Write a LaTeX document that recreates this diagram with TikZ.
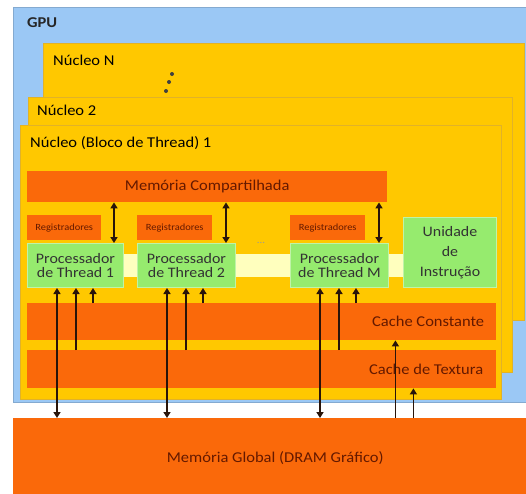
\documentclass[tikz,border=0pt]{standalone}
\usepackage{fontspec}
\setmainfont{Carlito}[FakeStretch=1.1]
\usetikzlibrary{arrows.meta}

\definecolor{gpublue}{RGB}{155,200,245}
\definecolor{coreyellow}{RGB}{255,200,0}
\definecolor{coreedge}{RGB}{225,178,40}
\definecolor{memorange}{RGB}{250,105,10}
\definecolor{procgreen}{RGB}{150,235,110}
\definecolor{busyellow}{RGB}{255,255,190}
\definecolor{txtbrown}{RGB}{100,25,0}
\definecolor{linkdark}{RGB}{40,20,10}

\tikzset{
  box/.style={rectangle, anchor=north west, inner sep=0pt},
  core/.style={box, fill=coreyellow, draw=coreedge, line width=1pt},
  mem/.style={box, fill=memorange, text=txtbrown, font=\fontsize{15}{18}\selectfont},
  reg/.style={box, fill=memorange, text=txtbrown, minimum height=25pt, font=\fontsize{9.5}{11}\selectfont},
  proc/.style={box, fill=procgreen, draw=procgreen!60!white, line width=1pt, align=center, text=black!80, minimum height=44pt, font=\fontsize{14.5}{14}\selectfont},
  lbl/.style={anchor=west, inner sep=0pt, font=\fontsize{15}{18}\selectfont},
  link/.style={line width=1.8pt, draw=linkdark, >={Triangle[width=7pt,length=6pt]}},
}

\begin{document}
\begin{tikzpicture}[x=1pt,y=-1pt]
  \useasboundingbox (0,0) rectangle (526,493);
  \clip (0,0) rectangle (526,493);

  % gpu and the stacked cores
  \node[box, fill=gpublue, draw=gpublue!85!black, line width=0.8pt, minimum width=530pt, minimum height=395pt] (gpu) at (13,7) {};
  \node[core, minimum width=481pt, minimum height=277pt] (cN) at (43,43) {};
  \foreach \x/\y in {172/74,169/82,166/91}
    \fill[black!75] (\x,\y) circle (2pt);
  \node[core, minimum width=484pt, minimum height=275pt] (c2) at (28,97) {};
  \node[core, minimum width=481pt, minimum height=274pt] (c1) at (20,125) {};

  \node[lbl, text=black!85] (gpul) at ([shift={(14,16)}]gpu.north west) {\bfseries GPU};
  \node[lbl] (cNl) at ([shift={(10,17)}]cN.north west) {Núcleo N};
  \node[lbl] (c2l) at ([shift={(9,13)}]c2.north west) {Núcleo 2};
  \node[lbl] (c1l) at ([shift={(10,18)}]c1.north west) {Núcleo (Bloco de Thread) 1};

  % inside core 1
  \node[mem, minimum width=360pt, minimum height=31pt] (shm) at (27,171) {Memória Compartilhada};
  \node[box, fill=busyellow, minimum width=376pt, minimum height=23pt] (bus) at (27,254) {};

  \node[reg, minimum width=74pt] (r1) at (27,215) {Registradores};
  \node[reg, minimum width=75pt] (r2) at (137,215) {Registradores};
  \node[reg, minimum width=75pt] (rM) at (290,215) {Registradores};

  \node[proc, minimum width=96pt] (p1) at (27,243) {Processador\\de Thread 1};
  \node[proc, minimum width=98pt] (p2) at (137,243) {Processador\\de Thread 2};
  \node[proc, minimum width=98pt] (pM) at (290,243) {Processador\\de Thread M};
  \node[text=black!40, font=\fontsize{10}{10}\selectfont] (gap) at (261,243) {...};
  \node[proc, minimum width=93pt, minimum height=70pt, font=\fontsize{14.5}{20}\selectfont] (iu) at (403,217) {Unidade\\de\\Instrução};

  \node[mem, minimum width=469pt, minimum height=37pt] (cst) at (27,303) {};
  \node[anchor=east, inner sep=0pt, text=txtbrown, font=\fontsize{15}{18}\selectfont] (cstl) at ([xshift=-12pt]cst.east) {Cache Constante};
  \node[mem, minimum width=469pt, minimum height=38pt] (tex) at (27,350) {};
  \node[anchor=east, inner sep=0pt, text=txtbrown, font=\fontsize{15}{18}\selectfont] (texl) at ([xshift=-13pt]tex.east) {Cache de Textura};

  % global memory
  \node[mem, minimum width=524pt, minimum height=80pt] (glob) at (13,418) {Memória Global (DRAM Gráfico)};

  % connections
  \foreach \p in {p1,p2,pM} {
    \coordinate (s\p) at ([xshift=-10pt]\p.north east);
    \coordinate (a\p) at ([xshift=30pt]\p.south west);
    \coordinate (b\p) at ([xshift=49pt]\p.south west);
    \coordinate (c\p) at ([xshift=66pt]\p.south west);
    \draw[link, <->] (shm.south -| s\p) -- (s\p);
    \draw[link, <->] (glob.north -| a\p) -- (a\p);
    \draw[link, ->] (tex.north -| b\p) -- (b\p);
    \draw[link, ->] (cst.north -| c\p) -- (c\p);
  }
  \coordinate (g1) at ([xshift=-101pt]cst.south east);
  \coordinate (g2) at ([xshift=-83pt]tex.south east);
  \draw[link, ->] (glob.north -| g1) -- (g1);
  \draw[link, ->] (glob.north -| g2) -- (g2);
\end{tikzpicture}
\end{document}
